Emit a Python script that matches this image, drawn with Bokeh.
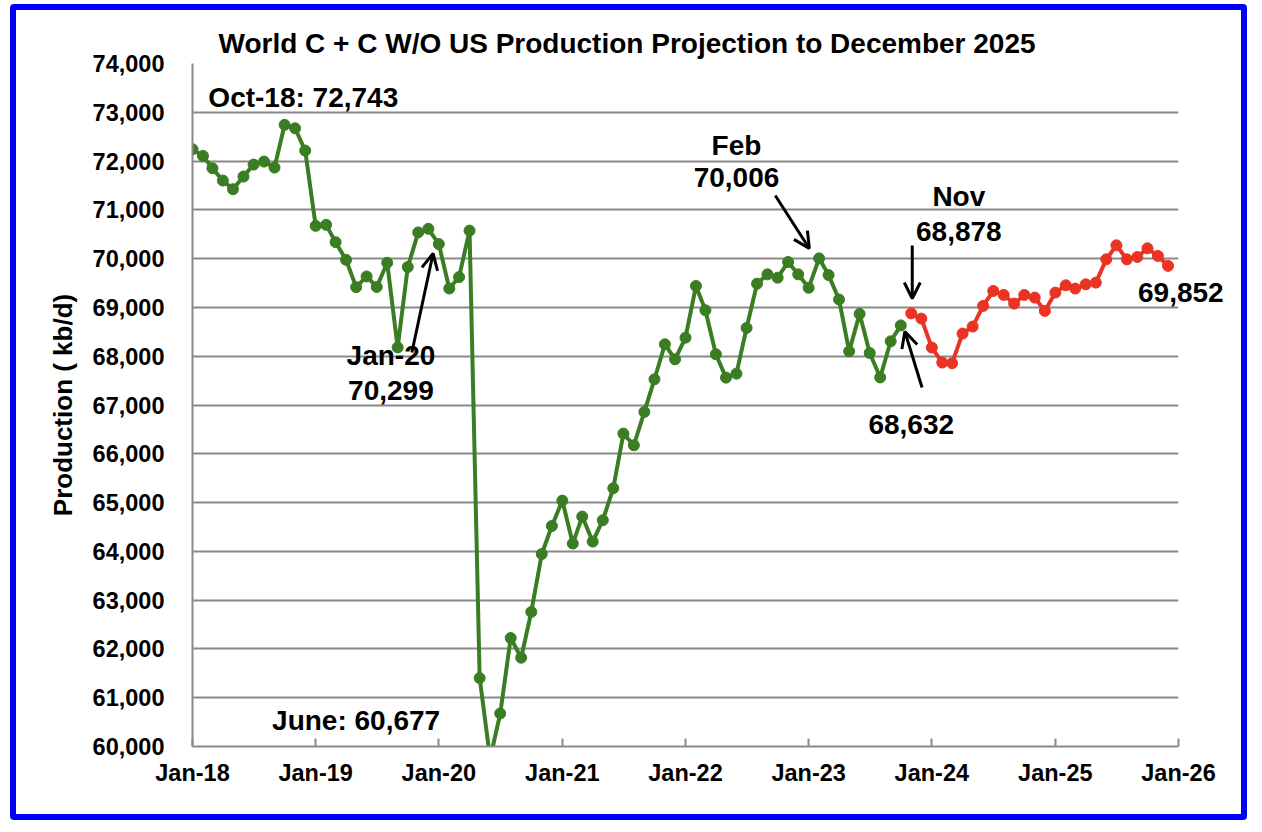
import pandas as pd
from bokeh.plotting import figure
from bokeh.models import (Range1d, FixedTicker, DatetimeTickFormatter, NumeralTickFormatter,
                          Label, Arrow, OpenHead)
from bokeh.embed import file_html
from bokeh.resources import INLINE

# ---------------- data ----------------
hist_start = "2018-01-01"
hist_values = [
    72242, 72106, 71853, 71600, 71423, 71683, 71928, 71990, 71867, 72743, 72672, 72215,
    70672, 70693, 70338, 69976, 69416, 69635, 69420, 69916, 68180, 69828, 70538, 70612,
    70299, 69388, 69623, 70575, 61403, 59750, 60677, 62223, 61820, 62758, 63945, 64520,
    65040, 64160, 64713, 64201, 64638, 65294, 66414, 66175, 66858, 67527, 68245, 67937,
    68381, 69440, 68941, 68040, 67561, 67643, 68580, 69486, 69678, 69609, 69931, 69678,
    69403, 70006, 69664, 69163, 68100, 68868, 68066, 67565, 68306, 68632,
]
proj_start = "2023-11-01"
proj_values = [
    68878, 68771, 68177, 67870, 67857, 68464, 68608, 69031, 69338, 69256, 69078, 69256,
    69201, 68928, 69304, 69454, 69386, 69474, 69509, 69986, 70273, 69986, 70034, 70212,
    70055, 69852,
]
x_tick_dates = ["2018-01-01", "2019-01-01", "2020-01-01", "2021-01-01", "2022-01-01",
                "2023-01-01", "2024-01-01", "2025-01-01", "2026-01-01"]
y_ticks = list(range(60000, 74001, 1000))

hist_dates = pd.date_range(hist_start, periods=len(hist_values), freq="MS")
proj_dates = pd.date_range(proj_start, periods=len(proj_values), freq="MS")


def ms(s):
    return pd.Timestamp(s).value / 1e6


FONT = "Liberation Sans"
GREEN = "#3a7d22"
RED = "#ea3323"
GRID = "#8a8a8a"

p = figure(width=1237, height=816, x_axis_type="datetime",
           x_range=Range1d(ms("2018-01-01"), ms("2026-01-01")),
           y_range=Range1d(60000, 74000),
           output_backend="svg", toolbar_location=None,
           min_border_left=176, min_border_right=75, min_border_top=53, min_border_bottom=80)
p.styles = {"border": "6px solid #0000ff", "border-radius": "4px",
            "margin-left": "10px", "margin-top": "4px"}
p.outline_line_color = None
p.background_fill_color = "white"
p.border_fill_color = "white"

p.title.text = "World C + C W/O US Production Projection to December 2025"
p.title.align = "left"
p.title.offset = 26
p.title.standoff = 10
p.title.text_font = FONT
p.title.text_font_size = "28px"
p.title.text_font_style = "bold"
p.title.text_color = "black"

# axes
p.xaxis.ticker = FixedTicker(ticks=[ms(d) for d in x_tick_dates])
p.xaxis.formatter = DatetimeTickFormatter(years="%b-%y", months="%b-%y", days="%b-%y",
                                          hours="%b-%y", minutes="%b-%y", seconds="%b-%y",
                                          milliseconds="%b-%y")
p.yaxis.ticker = FixedTicker(ticks=y_ticks)
p.yaxis.formatter = NumeralTickFormatter(format="0,0")
for ax in (p.xaxis, p.yaxis):
    ax.axis_line_color = GRID
    ax.axis_line_width = 2
    ax.major_tick_line_color = GRID
    ax.major_tick_line_width = 2
    ax.minor_tick_line_color = None
    ax.major_label_text_font = FONT
    ax.major_label_text_font_size = "23.5px"
    ax.major_label_text_font_style = "bold"
    ax.major_label_text_color = "black"
p.xaxis.major_tick_in = 8
p.xaxis.major_tick_out = 0
p.xaxis.major_label_standoff = 13
p.yaxis.major_tick_in = 0
p.yaxis.major_tick_out = 0
p.yaxis.major_label_standoff = 28
p.yaxis.axis_label = "Production ( kb/d)"
p.yaxis.axis_label_text_font = FONT
p.yaxis.axis_label_text_font_size = "26px"
p.yaxis.axis_label_text_font_style = "bold"
p.yaxis.axis_label_text_color = "black"
p.yaxis.axis_label_standoff = 12

p.xgrid.grid_line_color = None
p.ygrid.ticker = FixedTicker(ticks=y_ticks)
p.ygrid.grid_line_color = GRID
p.ygrid.grid_line_width = 2

# series
p.line(hist_dates, hist_values, line_color=GREEN, line_width=4)
p.scatter(hist_dates, hist_values, size=11, fill_color=GREEN, line_color=GREEN)
p.line(proj_dates, proj_values, line_color=RED, line_width=4)
p.scatter(proj_dates, proj_values, size=11, fill_color=RED, line_color=RED)


def lab(x, y, text, align="center", place="center"):
    label = Label(x=ms(x), y=y, text=text, text_font=FONT, text_font_size="28px",
                  text_font_style="bold", text_color="black",
                  text_align=align, text_baseline="middle")
    if place == "center":
        p.add_layout(label)
    else:
        p.add_layout(label, place)


def arr(x0, y0, x1, y1):
    p.add_layout(Arrow(x_start=ms(x0), y_start=y0, x_end=ms(x1), y_end=y1,
                       line_color="black", line_width=3,
                       end=OpenHead(size=16, line_color="black", line_width=3)))


lab("2018-02-17", 73303, "Oct-18: 72,743", "left")
lab("2019-08-12", 68015, "Jan-20")
lab("2019-08-12", 67298, "70,299")
arr("2019-10-13", 68077, "2019-12-15", 70106)
lab("2020-01-05", 60534, "June: 60,677", "right")
lab("2022-06-01", 72319, "Feb")
lab("2022-06-01", 71663, "70,006")
arr("2022-09-24", 71295, "2023-01-03", 70208)
lab("2024-03-21", 71274, "Nov")
lab("2024-03-21", 70557, "68,878")
arr("2023-11-04", 70270, "2023-11-04", 69183)
lab("2023-11-01", 66601, "68,632")
arr("2023-12-03", 67359, "2023-10-13", 68507)
# placed in a side panel so that it may extend past the plot frame (as in the original)
lab("2025-09-03", 69306, "69,852", "left", "below")

open("out.html", "w").write(file_html(p, INLINE))
